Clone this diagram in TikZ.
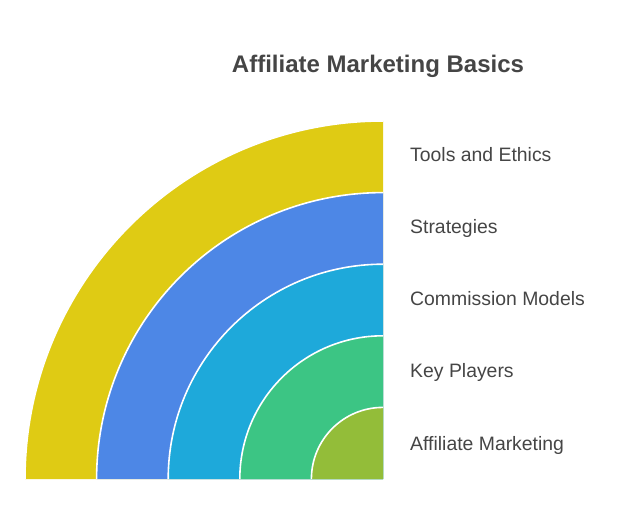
\documentclass[tikz,border=0pt]{standalone}
\usepackage{fontspec}
\setmainfont{Liberation Sans}
\usepackage{tikz}
\definecolor{ringyellow}{HTML}{DFCB14}
\definecolor{ringblue}{HTML}{4D87E6}
\definecolor{ringcyan}{HTML}{1EA9DA}
\definecolor{ringgreen}{HTML}{3CC584}
\definecolor{ringolive}{HTML}{93BD39}
\definecolor{textgrey}{HTML}{454545}
\tikzstyle{ringlabel} = [anchor=base west, inner sep=0pt, text=textgrey,
    font=\fontsize{19.4}{23}\selectfont]
\tikzstyle{charttitle} = [inner sep=0pt, text=textgrey,
    font=\fontsize{24}{28}\selectfont\bfseries]
\tikzstyle{ringedge} = [draw=white, line width=1.6pt]

\begin{document}
\begin{tikzpicture}[x=1pt, y=1pt]
                \useasboundingbox (0,0) rectangle (624,528);
                \coordinate (centre) at (383,49);
                % rings, outermost first
                \foreach \r/\col in {358/ringyellow, 286.4/ringblue, 214.8/ringcyan, 143.2/ringgreen, 71.6/ringolive}{
                    \fill[\col] (centre) -- ++(180:\r) arc[start angle=180, end angle=90, radius=\r] -- cycle;
                    \draw[ringedge] (centre) ++(180:\r) arc[start angle=180, end angle=90, radius=\r];
                }
                \node[charttitle] (title) at (378,462) {Affiliate Marketing Basics};
                \node[ringlabel] (tools) at (410,366) {Tools and Ethics};
                \node[ringlabel] (strategies) at (410,294) {Strategies};
                \node[ringlabel] (commission) at (410,222) {Commission Models};
                \node[ringlabel] (players) at (410,150) {Key Players};
                \node[ringlabel] (affiliate) at (410,78) {Affiliate Marketing};
            \end{tikzpicture}
\end{document}
